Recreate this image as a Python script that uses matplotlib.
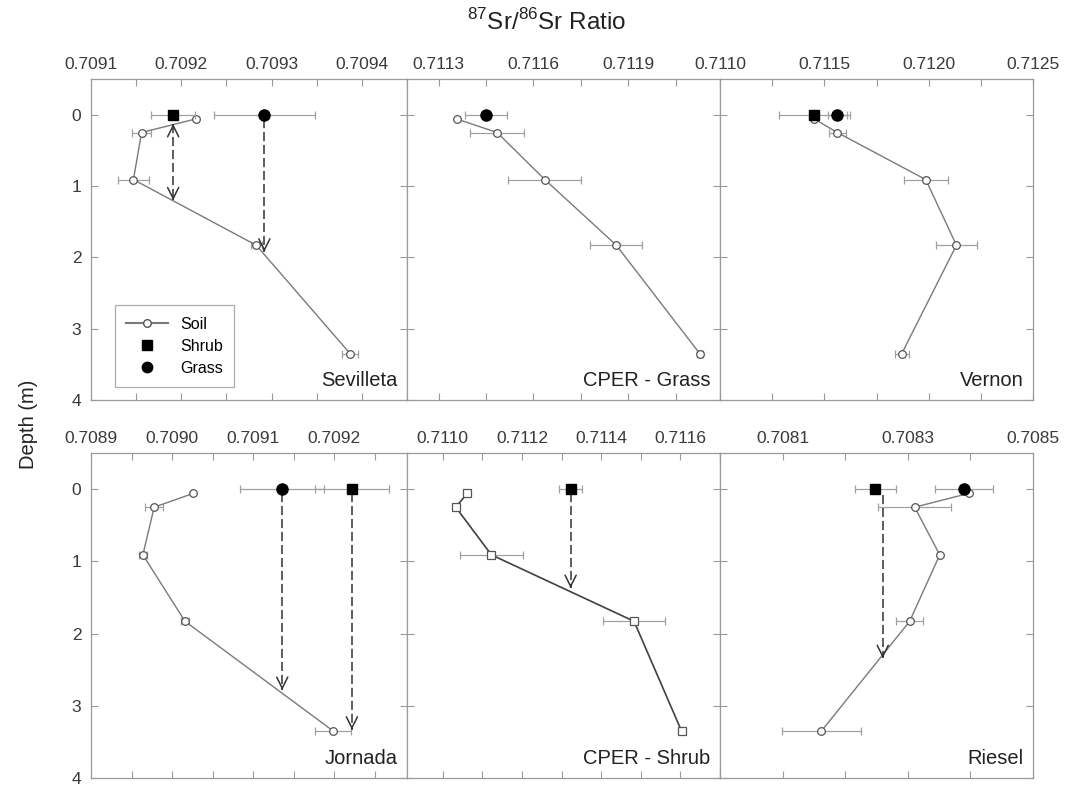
import numpy as np
import matplotlib
matplotlib.use("Agg")
import matplotlib.pyplot as plt
from matplotlib.lines import Line2D
from matplotlib.ticker import FixedLocator, MultipleLocator

plt.rcParams['font.family'] = ['Liberation Sans', 'DejaVu Sans']
plt.rcParams['mathtext.fontset'] = 'custom'
plt.rcParams['mathtext.rm'] = 'Liberation Sans'

# soil sampling depths (m), shared by all sites
soil_depth = [0.06, 0.25, 0.91, 1.83, 3.35]

# Sevilleta
sev_soil = [0.709216, 0.709156, 0.709147, 0.709283, 0.709387]
sev_soil_err = [0.0, 0.000011, 0.000017, 0.000006, 0.000009]
sev_shrub, sev_shrub_err = 0.709191, 0.000024
sev_grass, sev_grass_err = 0.709292, 0.000056

# CPER - Grass
cpg_soil = [0.711357, 0.711485, 0.711636, 0.711862, 0.712126]
cpg_soil_err = [0.0, 0.000086, 0.000115, 0.000082, 0.000010]
cpg_grass, cpg_grass_err = 0.711451, 0.000066

# Vernon
ver_soil = [0.711452, 0.711562, 0.711986, 0.712133, 0.711871]
ver_soil_err = [0.0, 0.000040, 0.000105, 0.000100, 0.000033]
ver_shrub, ver_shrub_err = 0.711452, 0.000170
ver_grass, ver_grass_err = 0.711562, 0.000045

# Jornada
jor_soil = [0.709026, 0.708978, 0.708964, 0.709016, 0.709199]
jor_soil_err = [0.0, 0.000011, 0.000005, 0.000005, 0.000022]
jor_shrub, jor_shrub_err = 0.709222, 0.000046
jor_grass, jor_grass_err = 0.709136, 0.000052

# CPER - Shrub
cps_soil = [0.711062, 0.711033, 0.711123, 0.711483, 0.711603]
cps_soil_err = [0.0, 0.0, 0.000080, 0.000079, 0.0]
cps_shrub, cps_shrub_err = 0.711323, 0.000029

# Riesel
rie_soil = [0.708397, 0.708311, 0.708351, 0.708303, 0.708162]
rie_soil_err = [0.0, 0.000058, 0.0, 0.000022, 0.000063]
rie_shrub, rie_shrub_err = 0.708248, 0.0000325
rie_grass, rie_grass_err = 0.708390, 0.000046

# uptake arrows: (ratio, top depth, bottom depth, double headed)
sev_arrows = [(0.709191, 0.13, 1.20, True), (0.709292, 0.06, 1.92, False)]
jor_arrows = [(0.709136, 0.06, 2.78, False), (0.709222, 0.06, 3.33, False)]
cps_arrows = [(0.711323, 0.06, 1.37, False)]
rie_arrows = [(0.708260, 0.08, 2.34, False)]

panels = [
    dict(name='Sevilleta', soil=sev_soil, err=sev_soil_err,
         shrub=(sev_shrub, sev_shrub_err), grass=(sev_grass, sev_grass_err),
         arrows=sev_arrows, xlim=(0.7091, 0.70945),
         major=[0.7091, 0.7092, 0.7093, 0.7094], minor=0.00005),
    dict(name='CPER - Grass', soil=cpg_soil, err=cpg_soil_err,
         shrub=None, grass=(cpg_grass, cpg_grass_err),
         arrows=[], xlim=(0.7112, 0.71219),
         major=[0.7113, 0.7116, 0.7119], minor=0.00015),
    dict(name='Vernon', soil=ver_soil, err=ver_soil_err,
         shrub=(ver_shrub, ver_shrub_err), grass=(ver_grass, ver_grass_err),
         arrows=[], xlim=(0.7110, 0.7125),
         major=[0.7110, 0.7115, 0.7120, 0.7125], minor=0.00025),
    dict(name='Jornada', soil=jor_soil, err=jor_soil_err,
         shrub=(jor_shrub, jor_shrub_err), grass=(jor_grass, jor_grass_err),
         arrows=jor_arrows, xlim=(0.7089, 0.70929),
         major=[0.7089, 0.7090, 0.7091, 0.7092], minor=0.00005),
    dict(name='CPER - Shrub', soil=cps_soil, err=cps_soil_err,
         shrub=(cps_shrub, cps_shrub_err), grass=None,
         arrows=cps_arrows, xlim=(0.71091, 0.7117),
         major=[0.7110, 0.7112, 0.7114, 0.7116], minor=0.0001,
         square_soil=True),
    dict(name='Riesel', soil=rie_soil, err=rie_soil_err,
         shrub=(rie_shrub, rie_shrub_err), grass=(rie_grass, rie_grass_err),
         arrows=rie_arrows, xlim=(0.7080, 0.7085),
         major=[0.7081, 0.7083, 0.7085], minor=0.0001),
]

W, H = 1065, 785
fig = plt.figure(figsize=(W / 100, H / 100), dpi=100)

xs = [91, 407, 720, 1033]
rows = [(79, 400), (453, 778)]

spine_c = '#9a9a9a'
soil_c = '#7a7a7a'
err_c = '#a0a0a0'
text_c = '#3a3a3a'
arrow_c = '#333333'


def head(ax, x0, tip, tail):
    # solid open arrowhead at tip, pointing away from tail
    step = 0.02 if tail > tip else -0.02
    ax.annotate('', xy=(x0, tip), xytext=(x0, tip + step),
                arrowprops=dict(arrowstyle='->', color=arrow_c, lw=1.1,
                                shrinkA=0, shrinkB=0, mutation_scale=20),
                zorder=4)


for i, p in enumerate(panels):
    r, c = divmod(i, 3)
    top, bot = rows[r]
    ax = fig.add_axes([xs[c] / W, 1 - bot / H, (xs[c + 1] - xs[c]) / W, (bot - top) / H])

    dark = p.get('square_soil', False)
    ax.errorbar(p['soil'], soil_depth, xerr=p['err'], fmt='none',
                ecolor=err_c, elinewidth=0.9, capsize=3, capthick=0.9, zorder=2)
    ax.plot(p['soil'], soil_depth, '-', color='#404040' if dark else soil_c,
            lw=1.2 if dark else 1.0,
            marker='s' if dark else 'o', ms=5.5, mfc='white',
            mec='#555555', mew=0.9, zorder=3)

    for x0, d0, d1, both in p['arrows']:
        ax.plot([x0, x0], [d0, d1], color=arrow_c, lw=1.1,
                ls=(0, (6, 2.5)), zorder=4)
        head(ax, x0, d1, d0)
        if both:
            head(ax, x0, d0, d1)

    if p['shrub'] is not None:
        ax.errorbar([p['shrub'][0]], [0], xerr=[p['shrub'][1]], fmt='s',
                    color='black', ms=7, ecolor=err_c, elinewidth=0.9,
                    capsize=3, capthick=0.9, zorder=5)
    if p['grass'] is not None:
        ax.errorbar([p['grass'][0]], [0], xerr=[p['grass'][1]], fmt='o',
                    color='black', ms=8, ecolor=err_c, elinewidth=0.9,
                    capsize=3, capthick=0.9, zorder=5)

    ax.set_xlim(*p['xlim'])
    ax.set_ylim(4, -0.5)
    ax.xaxis.set_major_locator(FixedLocator(p['major']))
    ax.xaxis.set_minor_locator(MultipleLocator(p['minor']))
    ax.set_xticklabels(['%.4f' % v for v in p['major']])
    ax.set_yticks([0, 1, 2, 3, 4])
    ax.tick_params(which='both', top=True, bottom=True, left=True, right=True,
                   labeltop=True, labelbottom=False, direction='in',
                   color=spine_c, width=0.8, length=5)
    ax.tick_params(axis='x', which='major', labelsize=12.5,
                   labelcolor=text_c, pad=5)
    ax.tick_params(axis='y', labelsize=12.5, labelcolor=text_c, pad=7)
    if c != 0:
        ax.tick_params(axis='y', labelleft=False)
    for s in ax.spines.values():
        s.set_color(spine_c)
        s.set_linewidth(0.9)

    ax.text(0.97, 0.03, p['name'], transform=ax.transAxes, ha='right',
            va='bottom', fontsize=14.5, color='#222222')

    if i == 0:
        handles = [
            Line2D([], [], color=soil_c, marker='o', mfc='white', mec='#555555', ms=5.5),
            Line2D([], [], ls='none', marker='s', color='black', ms=6.5),
            Line2D([], [], ls='none', marker='o', color='black', ms=7.5),
        ]
        leg = ax.legend(handles, ['Soil', 'Shrub', 'Grass'], loc='lower left',
                        bbox_to_anchor=(0.076, 0.04), borderaxespad=0,
                        fancybox=False, fontsize=11.5, handlelength=2.6,
                        labelspacing=0.45, borderpad=0.7, handletextpad=0.8)
        leg.get_frame().set_edgecolor(spine_c)
        leg.get_frame().set_linewidth(0.9)

fig.text(0.513, 0.972, r'$^{87}$Sr/$^{86}$Sr Ratio', ha='center', va='center',
         fontsize=17.5, color='#222222')
fig.text(0.027, 0.46, 'Depth (m)', rotation=90, ha='center', va='center',
         fontsize=14.5, color='#222222')

fig.savefig('out.png', dpi=100)
